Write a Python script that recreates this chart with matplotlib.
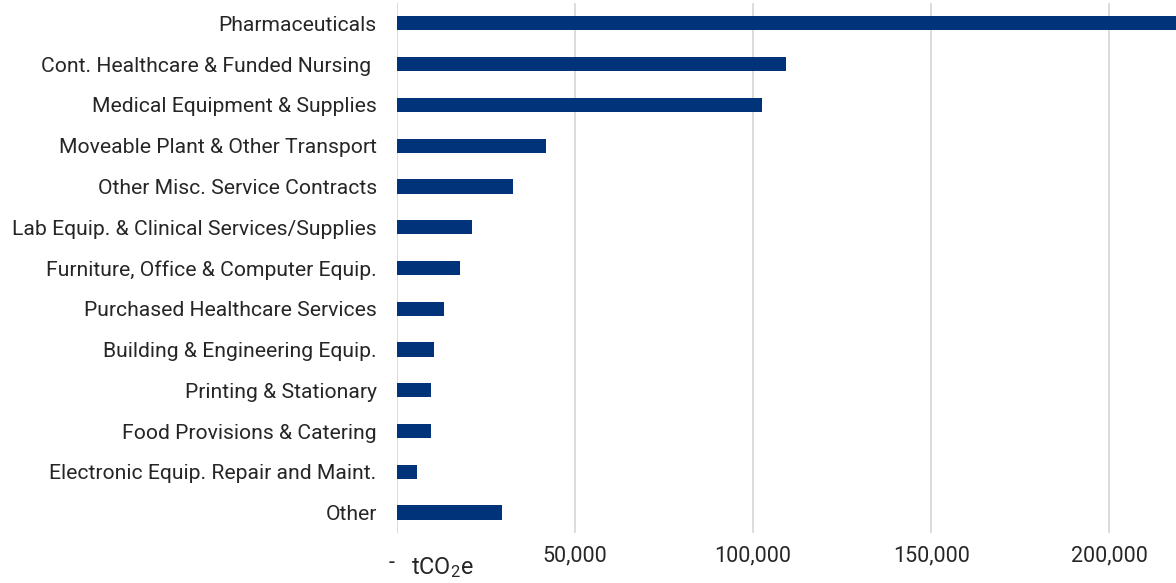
import matplotlib
matplotlib.use("Agg")
import matplotlib.pyplot as plt
from matplotlib.ticker import FuncFormatter

# Emissions by procurement category (tCO2e)
categories = [
    "Pharmaceuticals",
    "Cont. Healthcare & Funded Nursing ",
    "Medical Equipment & Supplies",
    "Moveable Plant & Other Transport",
    "Other Misc. Service Contracts",
    "Lab Equip. & Clinical Services/Supplies",
    "Furniture, Office & Computer Equip.",
    "Purchased Healthcare Services",
    "Building & Engineering Equip.",
    "Printing & Stationary",
    "Food Provisions & Catering",
    "Electronic Equip. Repair and Maint.",
    "Other",
]
emissions = [218600, 109300, 102500, 41800, 32600, 21200, 17800,
             13400, 10600, 9700, 9700, 5800, 29600]
xticks = [0, 50000, 100000, 150000, 200000]

plt.rcParams["font.family"] = ["Roboto", "DejaVu Sans"]

fig = plt.figure(figsize=(11.76, 5.83), dpi=100)
ax = fig.add_axes([0.3373, 0.0858, 0.6627, 0.9091])

ypos = list(range(len(categories)))
ax.barh(ypos, emissions, height=0.35, color="#00337a", zorder=3)

ax.set_ylim(len(categories) - 0.5, -0.5)
ax.set_xlim(0, 218700)
ax.set_yticks(ypos)
ax.set_yticklabels(categories, fontsize=15.2, color="#262626")

ax.set_xticks(xticks)
# zero label drawn separately as Excel-style dash
ax.xaxis.set_major_formatter(FuncFormatter(lambda v, p: "" if v == 0 else f"{v:,.0f}"))
ax.tick_params(axis="x", labelsize=15.5, colors="#262626", length=0, pad=9)
ax.tick_params(axis="y", length=0, pad=14.4)

ax.grid(axis="x", color="#d9d9d9", linewidth=1.3, zorder=0)
for s in ax.spines.values():
    s.set_visible(False)

trans = ax.get_xaxis_transform()
ax.text(-1300, -0.057, "-", transform=trans, fontsize=15.5, color="#262626",
        va="center", ha="center")
ax.text(4000, -0.066, r"tCO$_\mathregular{2}$e", transform=trans,
        fontsize=16.8, color="#262626", va="center", ha="left")

fig.savefig("out.png", dpi=100)
